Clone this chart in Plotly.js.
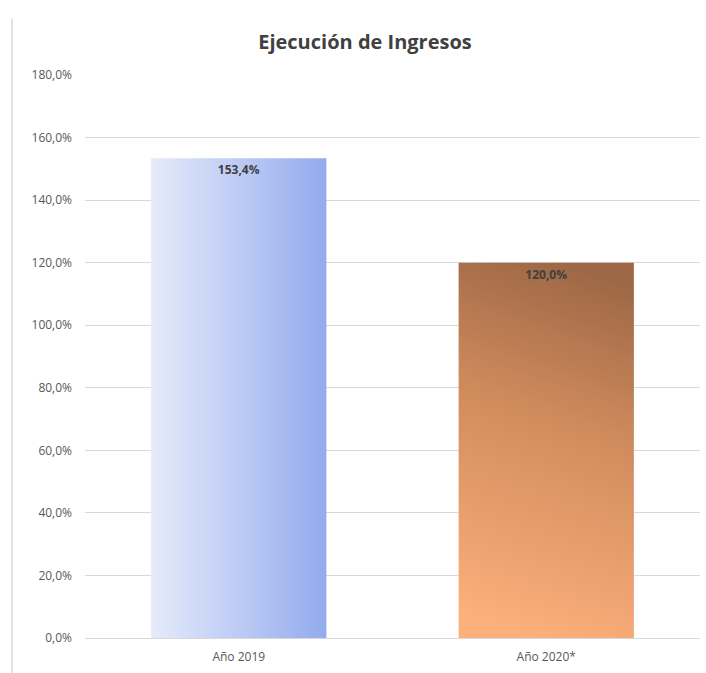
<!DOCTYPE html>
<html>
<head>
<meta charset="utf-8">
<script src="https://cdn.plot.ly/plotly-3.0.1.min.js"></script>
<style>html,body{margin:0;padding:0;background:#fff;}#chart{width:706px;height:673px;}</style>
</head>
<body>
<div id="chart"></div>
<script>
const categories = ["Año 2019", "Año 2020*"];
const values = [153.4, 120.0];
const labels = ["153,4%", "120,0%"];
const tickValues = [0, 20, 40, 60, 80, 100, 120, 140, 160, 180];
const tickLabels = ["0,0%", "20,0%", "40,0%", "60,0%", "80,0%", "100,0%", "120,0%", "140,0%", "160,0%", "180,0%"];

const font = "Open Sans, Liberation Sans, sans-serif";

const trace = {
  type: "bar",
  x: categories,
  y: values,
  text: labels,
  textposition: "inside",
  insidetextanchor: "end",
  textangle: 0,
  textfont: {family: font, size: 12, color: "#404040", weight: "bold"},
  width: 0.57,
  marker: {color: ["#bccaf5", "#d48c5e"], line: {width: 0}},
  hoverinfo: "none"
};

const layout = {
  width: 706, height: 673,
  margin: {l: 85, r: 6, t: 75, b: 35},
  paper_bgcolor: "#fff", plot_bgcolor: "#fff",
  showlegend: false,
  title: {text: "<b>Ejecución de Ingresos</b>", font: {family: font, size: 20, color: "#404040"}, x: 0.517, xanchor: "center", y: 0.937, yanchor: "middle"},
  xaxis: {range: [-0.5, 1.5], showgrid: false, zeroline: false, showline: false, ticks: "",
          ticklabelstandoff: 10,
          tickfont: {family: font, size: 12, color: "#595959"}, fixedrange: true},
  yaxis: {range: [0, 180], tickmode: "array", tickvals: tickValues, ticktext: tickLabels,
          showgrid: true, gridcolor: "#d9d9d9", gridwidth: 1, zeroline: true, zerolinecolor: "#d9d9d9",
          showline: false, ticks: "", ticklabelstandoff: 12,
          tickfont: {family: font, size: 12, color: "#595959"}, fixedrange: true},
  shapes: [{type: "line", xref: "paper", yref: "paper", x0: -0.1187, x1: -0.1187, y0: -0.062, y1: 1.10,
            line: {color: "#d9d9d9", width: 1.5}}]
};

function applyGradients(gd) {
  const svg = gd.querySelector("svg.main-svg");
  let defs = svg.querySelector("defs");
  if (!defs) { defs = document.createElementNS("http://www.w3.org/2000/svg", "defs"); svg.insertBefore(defs, svg.firstChild); }
  if (!defs.querySelector("#gBlue")) {
    defs.insertAdjacentHTML("beforeend",
      '<linearGradient id="gBlue" x1="0" y1="0" x2="1" y2="0">' +
      '<stop offset="0" stop-color="#e6ebfb"/><stop offset="1" stop-color="#93abee"/></linearGradient>' +
      '<linearGradient id="gOrange" x1="0.58" y1="0" x2="0.42" y2="1">' +
      '<stop offset="0" stop-color="#9e6846"/><stop offset="0.4" stop-color="#cf8a5c"/><stop offset="1" stop-color="#fcb07b"/></linearGradient>');
  }
  const paths = gd.querySelectorAll(".bars .point path");
  const ids = ["gBlue", "gOrange"];
  paths.forEach((p, i) => { p.style.fill = "url(#" + ids[i] + ")"; p.style.fillOpacity = 1; });
}

const gd = document.getElementById("chart");
Plotly.newPlot(gd, [trace], layout, {displayModeBar: false, staticPlot: true}).then(() => {
  applyGradients(gd);
  gd.on("plotly_afterplot", () => applyGradients(gd));
});
</script>
</body>
</html>
